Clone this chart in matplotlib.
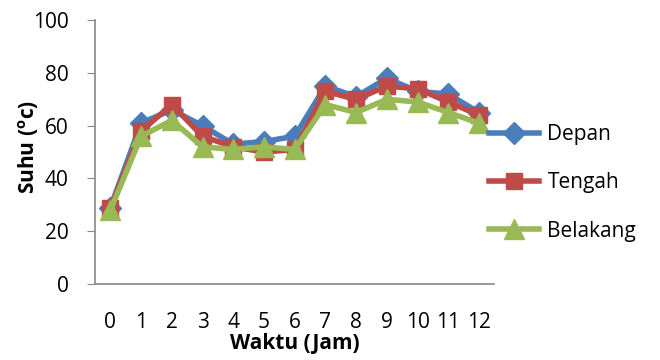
import matplotlib.pyplot as plt

# suhu per jam di tiga posisi
jam = list(range(13))
depan = [29, 61, 66, 60, 53, 54, 56, 75, 71, 78, 73, 72, 65]
tengah = [29, 58, 68, 56, 52, 50, 51, 73, 70, 75, 74, 69, 64]
belakang = [28, 56, 62, 52, 51, 52, 51, 68, 65, 70, 69, 65, 61]

plt.rcParams['font.family'] = ['Open Sans', 'DejaVu Sans']

fig = plt.figure(figsize=(6.6, 3.6), dpi=100)
ax = fig.add_axes([0.144, 0.211, 0.605, 0.733])

ax.plot(jam, depan, color='#4A7EBB', lw=4, marker='D', ms=11, label='Depan')
ax.plot(jam, tengah, color='#BE4B48', lw=4, marker='s', ms=12, label='Tengah')
ax.plot(jam, belakang, color='#98B954', lw=4, marker='^', ms=14, label='Belakang')

ax.set_xlim(-0.5, 12.5)
ax.set_ylim(0, 100)
ax.set_xticks(jam)
ax.set_yticks(range(0, 101, 20))
ax.tick_params(axis='x', length=0, labelsize=15, pad=20)
ax.tick_params(axis='y', length=6, color='#888888', labelsize=15, pad=13)
for s in ['top', 'right']:
    ax.spines[s].set_visible(False)
for s in ['left', 'bottom']:
    ax.spines[s].set_color('#888888')
    ax.spines[s].set_linewidth(1.2)

ax.set_xlabel('Waktu (Jam)', fontsize=15, fontweight='bold', labelpad=0)
ax.set_ylabel(r'Suhu ($^{\mathregular{o}}$c)', fontsize=15, fontweight='bold')
ax.yaxis.set_label_coords(-0.135, 0.52)

ax.legend(loc='center left', bbox_to_anchor=(0.94, 0.383), frameon=False,
          fontsize=15, handlelength=2.4, labelspacing=1.3, handletextpad=0.4)

plt.savefig('out.png')
